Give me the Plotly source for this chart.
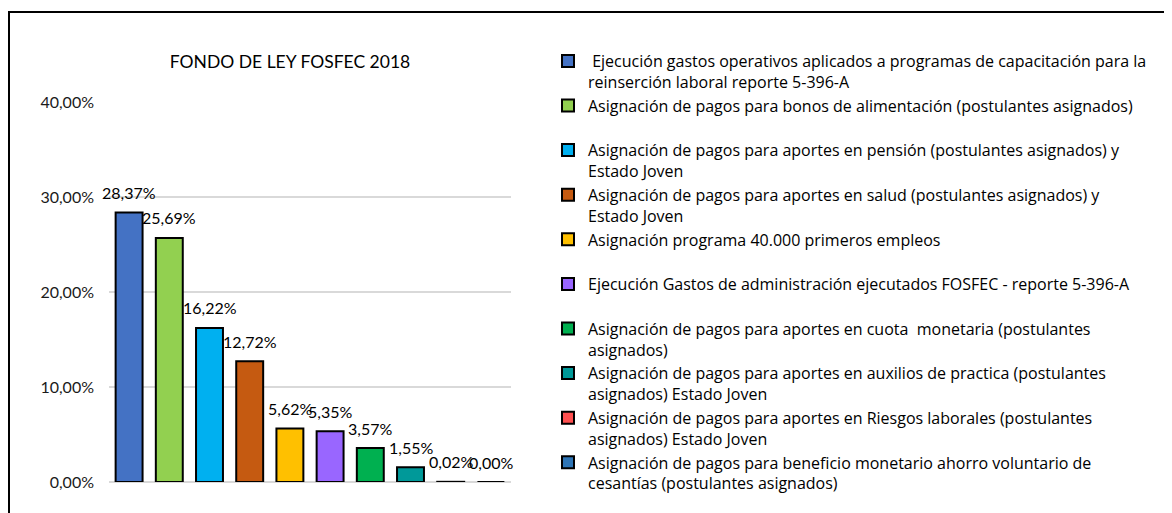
import plotly.graph_objects as go

# ---- data ----
categories = [
    " Ejecución gastos operativos aplicados a programas de capacitación para la<br>reinserción laboral reporte 5-396-A",
    "Asignación de pagos para bonos de alimentación (postulantes asignados)<br>\u00a0",
    "Asignación de pagos para aportes en pensión (postulantes asignados) y<br>Estado Joven",
    "Asignación de pagos para aportes en salud (postulantes asignados) y<br>Estado Joven",
    "Asignación programa 40.000 primeros empleos<br>\u00a0",
    "Ejecución Gastos de administración ejecutados FOSFEC - reporte 5-396-A<br>\u00a0",
    "Asignación de pagos para aportes en cuota  monetaria (postulantes<br>asignados)",
    "Asignación de pagos para aportes en auxilios de practica (postulantes<br>asignados) Estado Joven",
    "Asignación de pagos para aportes en Riesgos laborales (postulantes<br>asignados) Estado Joven",
    "Asignación de pagos para beneficio monetario ahorro voluntario de<br>cesantías (postulantes asignados)",
]
values_pct = [28.37, 25.69, 16.22, 12.72, 5.62, 5.35, 3.57, 1.55, 0.02, 0.00]
colors = ["#4472C4", "#92D050", "#00B0F0", "#C55A11", "#FFC000",
          "#9966FF", "#00B050", "#009999", "#FF5050", "#2E75B6"]
title_text = "FONDO DE LEY FOSFEC 2018"
y_ticks = [0, 0.10, 0.20, 0.30, 0.40]

# page body adds an 8px offset; positions below are in figure coordinates
W, H = 1172, 513
ML, MT = 101, 94
PLOT_R, PLOT_B = 503, 474
MR, MB = W - PLOT_R, H - PLOT_B
PW, PH = PLOT_R - ML, PLOT_B - MT

fig = go.Figure()
for i, (cat, v, c) in enumerate(zip(categories, values_pct, colors)):
    fig.add_trace(go.Bar(
        x=[i], y=[v / 100], name=cat, legendgroup=f"g{i}",
        marker=dict(color=c, line=dict(color="black", width=2)),
        hoverinfo="name+y",
    ))
    fig.add_annotation(
        x=i, y=v / 100, text=f"{v:.2f}".replace(".", ",") + "%",
        showarrow=False, yshift=20, yanchor="middle", xanchor="center",
        font=dict(size=16, color="#000000"),
    )

# outer chart border (clipped by page edges in the reference)
fig.add_shape(type="rect", xref="paper", yref="paper",
              x0=(1 - ML) / PW, x1=(W + 20 - ML) / PW,
              y0=-(H + 20 - PLOT_B) / PH, y1=1 + (MT - 4) / PH,
              line=dict(color="black", width=2), fillcolor="rgba(0,0,0,0)")

fig.update_layout(
    width=W, height=H,
    margin=dict(l=ML, r=MR, t=MT, b=MB, autoexpand=False),
    paper_bgcolor="white", plot_bgcolor="white",
    font=dict(family="Lato, sans-serif", size=14, color="#000000"),
    separators=",.",
    barmode="relative", bargap=0.33,
    title=dict(text=title_text, x=282 / W, xanchor="center",
               y=1 - 54 / H, yanchor="middle",
               font=dict(size=17.5, color="#000000")),
    xaxis=dict(range=[-0.5, len(categories) - 0.5], showticklabels=False,
               showgrid=False, zeroline=False, showline=False, ticks=""),
    yaxis=dict(range=[0, 0.40], tickvals=y_ticks, tickformat=".2%",
               showgrid=True, gridcolor="#D9D9D9", gridwidth=1.5,
               zeroline=True, zerolinecolor="#D9D9D9", zerolinewidth=1.5,
               showline=False, ticks="", ticklabelstandoff=14,
               tickfont=dict(size=16, color="#1a1a1a")),
    showlegend=True,
    legend=dict(xref="container", yref="container", x=540 / W, y=1 - 36 / H,
                xanchor="left", yanchor="top", valign="top",
                traceorder="grouped", tracegroupgap=0, maxheight=500,
                font=dict(family="Open Sans, sans-serif", size=16, color="#000000"),
                bgcolor="rgba(0,0,0,0)", itemclick=False),
)

fig.write_html("out.html")
